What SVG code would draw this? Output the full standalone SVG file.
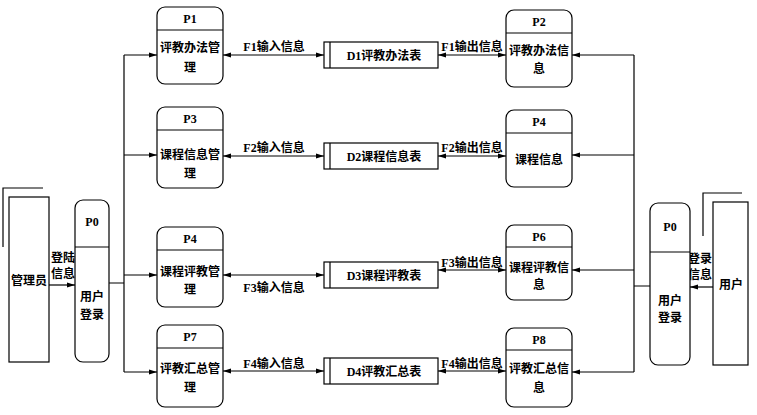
<svg xmlns="http://www.w3.org/2000/svg" width="757" height="415" viewBox="0 0 757 415">
<defs>
<style>
.s{fill:#fff;stroke:#000;stroke-width:1.2}
.l{fill:none;stroke:#000;stroke-width:1.2}
text{font-family:"Liberation Serif","Noto Sans CJK SC",serif;font-size:12px;font-weight:bold;text-anchor:middle;fill:#000}
</style>
<marker id="a" viewBox="0 0 8 8" refX="8" refY="4" markerWidth="7" markerHeight="7" orient="auto-start-reverse"><path d="M0,1.5L8,4L0,6.5z" fill="#000"/></marker>
</defs>
<rect width="757" height="415" fill="#fff"/>
<g id="connectors">
<path class="l" d="M49,285H75" marker-end="url(#a)"/>
<path class="l" d="M109,283H124M124,55V372"/>
<path class="l" d="M124,55H157" marker-end="url(#a)"/>
<path class="l" d="M124,155H157" marker-end="url(#a)"/>
<path class="l" d="M124,275H157" marker-end="url(#a)"/>
<path class="l" d="M124,372H157" marker-end="url(#a)"/>
<path class="l" d="M223,55H324" marker-start="url(#a)" marker-end="url(#a)"/>
<path class="l" d="M223,156H324" marker-start="url(#a)" marker-end="url(#a)"/>
<path class="l" d="M223,275H324" marker-start="url(#a)" marker-end="url(#a)"/>
<path class="l" d="M223,371H324" marker-start="url(#a)" marker-end="url(#a)"/>
<path class="l" d="M438,55H506" marker-start="url(#a)" marker-end="url(#a)"/>
<path class="l" d="M438,156H506" marker-start="url(#a)" marker-end="url(#a)"/>
<path class="l" d="M438,270H506" marker-start="url(#a)" marker-end="url(#a)"/>
<path class="l" d="M438,371H506" marker-start="url(#a)" marker-end="url(#a)"/>
<path class="l" d="M650,286H634M634,55V372"/>
<path class="l" d="M634,55H572" marker-end="url(#a)"/>
<path class="l" d="M634,155H572" marker-end="url(#a)"/>
<path class="l" d="M634,270H572" marker-end="url(#a)"/>
<path class="l" d="M634,372H572" marker-end="url(#a)"/>
<path class="l" d="M713,287H690" marker-end="url(#a)"/>
<text x="63" y="262">登陆</text><text x="63" y="278">信息</text>
<text x="700" y="263">登录</text><text x="700" y="279">信息</text>
<text x="274" y="51">F1输入信息</text>
<text x="274" y="152">F2输入信息</text>
<text x="274" y="292">F3输入信息</text>
<text x="274" y="368">F4输入信息</text>
<text x="472" y="51">F1输出信息</text>
<text x="472" y="152">F2输出信息</text>
<text x="472" y="267">F3输出信息</text>
<text x="472" y="368">F4输出信息</text>
</g>
<g id="admin"><path class="l" d="M43,188H3V247"/><rect class="s" x="9" y="197" width="40" height="165"/><text x="29" y="285">管理员</text></g>
<g id="user"><path class="l" d="M742,193H703V236"/><rect class="s" x="713" y="202" width="35" height="163"/><text x="731" y="289">用户</text></g>
<g id="p0l"><rect class="s" x="75" y="200" width="34" height="162" rx="8"/><path class="l" d="M75,247H109" stroke-width="2"/><text x="92" y="226">P0</text><text x="92" y="301">用户</text><text x="92" y="319">登录</text></g>
<g id="p0r"><rect class="s" x="650" y="203" width="40" height="162" rx="8"/><path class="l" d="M650,252H690" stroke-width="2"/><text x="670" y="231">P0</text><text x="670" y="305">用户</text><text x="670" y="322">登录</text></g>
<g id="p1"><rect class="s" x="157" y="7" width="66" height="77" rx="8"/><path class="l" d="M157,30H223"/><text x="190" y="23">P1</text><text x="190" y="52">评教办法管</text><text x="190" y="72">理</text></g>
<g id="p3"><rect class="s" x="157" y="107" width="66" height="81" rx="8"/><path class="l" d="M157,130H223"/><text x="190" y="123">P3</text><text x="190" y="159">课程信息管</text><text x="190" y="178">理</text></g>
<g id="p4l"><rect class="s" x="157" y="227" width="66" height="80" rx="8"/><path class="l" d="M157,250H223"/><text x="190" y="243">P4</text><text x="190" y="276">课程评教管</text><text x="190" y="294">理</text></g>
<g id="p7"><rect class="s" x="157" y="325" width="66" height="82" rx="8"/><path class="l" d="M157,348H223"/><text x="190" y="341">P7</text><text x="190" y="373">评教汇总管</text><text x="190" y="392">理</text></g>
<g id="p2"><rect class="s" x="506" y="10" width="66" height="77" rx="8"/><path class="l" d="M506,33H572"/><text x="539" y="26">P2</text><text x="539" y="55">评教办法信</text><text x="539" y="73">息</text></g>
<g id="p4r"><rect class="s" x="506" y="110" width="66" height="77" rx="8"/><path class="l" d="M506,133H572"/><text x="539" y="126">P4</text><text x="539" y="164">课程信息</text></g>
<g id="p6"><rect class="s" x="506" y="225" width="66" height="75" rx="8"/><path class="l" d="M506,247H572"/><text x="539" y="241">P6</text><text x="539" y="272">课程评教信</text><text x="539" y="289">息</text></g>
<g id="p8"><rect class="s" x="506" y="328" width="66" height="79" rx="8"/><path class="l" d="M506,350H572"/><text x="539" y="344">P8</text><text x="539" y="373">评教汇总信</text><text x="539" y="392">息</text></g>
<g id="d1"><rect class="s" x="324" y="42" width="114" height="26"/><path class="l" d="M330,42V68"/><text x="384" y="60">D1评教办法表</text></g>
<g id="d2"><rect class="s" x="324" y="143" width="114" height="26"/><path class="l" d="M330,143V169"/><text x="384" y="161">D2课程信息表</text></g>
<g id="d3"><rect class="s" x="324" y="262" width="114" height="26"/><path class="l" d="M330,262V288"/><text x="384" y="280">D3课程评教表</text></g>
<g id="d4"><rect class="s" x="324" y="358" width="114" height="26"/><path class="l" d="M330,358V384"/><text x="384" y="376">D4评教汇总表</text></g>
</svg>
